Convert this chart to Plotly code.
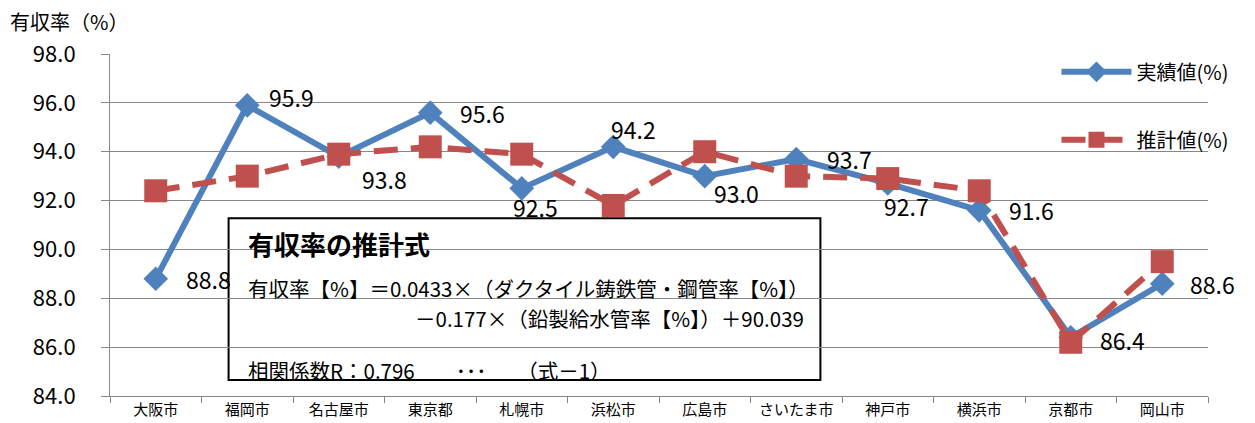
import plotly.graph_objects as go

# 都市ごとの有収率
cities = ["大阪市", "福岡市", "名古屋市", "東京都", "札幌市", "浜松市",
          "広島市", "さいたま市", "神戸市", "横浜市", "京都市", "岡山市"]
actual = [88.8, 95.9, 93.8, 95.6, 92.5, 94.2, 93.0, 93.7, 92.7, 91.6, 86.4, 88.6]
estimated = [92.4, 93.0, 93.9, 94.2, 93.9, 91.8, 94.0, 93.0, 92.9, 92.4, 86.2, 89.5]
y_ticks = [84, 86, 88, 90, 92, 94, 96, 98]

# ラベル位置の調整 (px)
label_shift = [(28, 0), (20, 8), (21, -22), (28, 0), (-11, -19), (-4, 18),
               (7, -17), (29, 0), (-6, -23), (28, 0), (27, -3), (26, 0)]

FONT = "Noto Sans CJK JP"
BLUE = "#4F81BD"
RED = "#C0504D"

fig = go.Figure()
fig.add_trace(go.Scatter(x=cities, y=actual, name="実績値(%)", mode="lines+markers",
                         line=dict(color=BLUE, width=6),
                         marker=dict(symbol="diamond", size=19, color=BLUE),
                         legendgroup="a"))
fig.add_trace(go.Scatter(x=cities, y=estimated, name="推計値(%)", mode="lines+markers",
                         line=dict(color=RED, width=6, dash="24px,13px"),
                         marker=dict(symbol="square", size=23, color=RED),
                         legendgroup="b"))

for c, v, (dx, dy) in zip(cities, actual, label_shift):
    fig.add_annotation(x=c, y=v, text=f"{v:.1f}", showarrow=False, xanchor="left",
                       yanchor="middle", xshift=dx, yshift=dy,
                       font=dict(family=FONT, size=23, color="#000"))

# 推計式の枠
fig.add_shape(type="rect", xref="paper", yref="paper", x0=0.108, x1=0.647, y0=0.047, y1=0.52,
              line=dict(color="black", width=2), fillcolor="rgba(0,0,0,0)", layer="between")

box_text = [
    ("<b>有収率の推計式</b>", 0.124, 0.447, 26, "left"),
    ("有収率【%】＝0.0433×（ダクタイル鋳鉄管・鋼管率【%】）", 0.124, 0.317, 20.5, "left"),
    ("－0.177×（鉛製給水管率【%】）＋90.039", 0.634, 0.227, 20.5, "right"),
    ("相関係数R：0.796　　･･･　　（式－1）", 0.124, 0.075, 20.5, "left"),
]
for t, px, py, fs, anc in box_text:
    fig.add_annotation(x=px, y=py, xref="paper", yref="paper", text=t, showarrow=False,
                       xanchor=anc, yanchor="middle", font=dict(family=FONT, size=fs, color="#000"))

fig.add_annotation(x=-0.093, y=1.094, xref="paper", yref="paper", text="有収率（%）",
                   showarrow=False, xanchor="left", yanchor="middle",
                   font=dict(family=FONT, size=20, color="#000"))

fig.update_layout(
    width=1255, height=423,
    margin=dict(l=110, r=47, t=54, b=27, autoexpand=False),
    plot_bgcolor="white", paper_bgcolor="white",
    font=dict(family=FONT, color="#000"),
    showlegend=True,
    legend=dict(x=0.862, y=1.005, xanchor="left", yanchor="top", bgcolor="rgba(0,0,0,0)",
                font=dict(family=FONT, size=20), tracegroupgap=39, itemwidth=70,
                traceorder="grouped"),
    xaxis=dict(range=[-0.5, len(cities) - 0.5], showline=True, linecolor="#888", linewidth=1,
               ticks="outside", tickson="boundaries", ticklen=6, tickcolor="#888",
               showgrid=False, tickfont=dict(family=FONT, size=15)),
    yaxis=dict(range=[84, 98], tickvals=y_ticks, tickformat=".1f", showline=True,
               linecolor="#888", linewidth=1, ticks="outside", ticklen=8, tickcolor="#888",
               gridcolor="#888", gridwidth=1, zeroline=False, ticklabelstandoff=21,
               tickfont=dict(family=FONT, size=22)),
)

fig.write_html("out.html", config={"displayModeBar": False},
               post_script="document.body.style.margin='0';")
